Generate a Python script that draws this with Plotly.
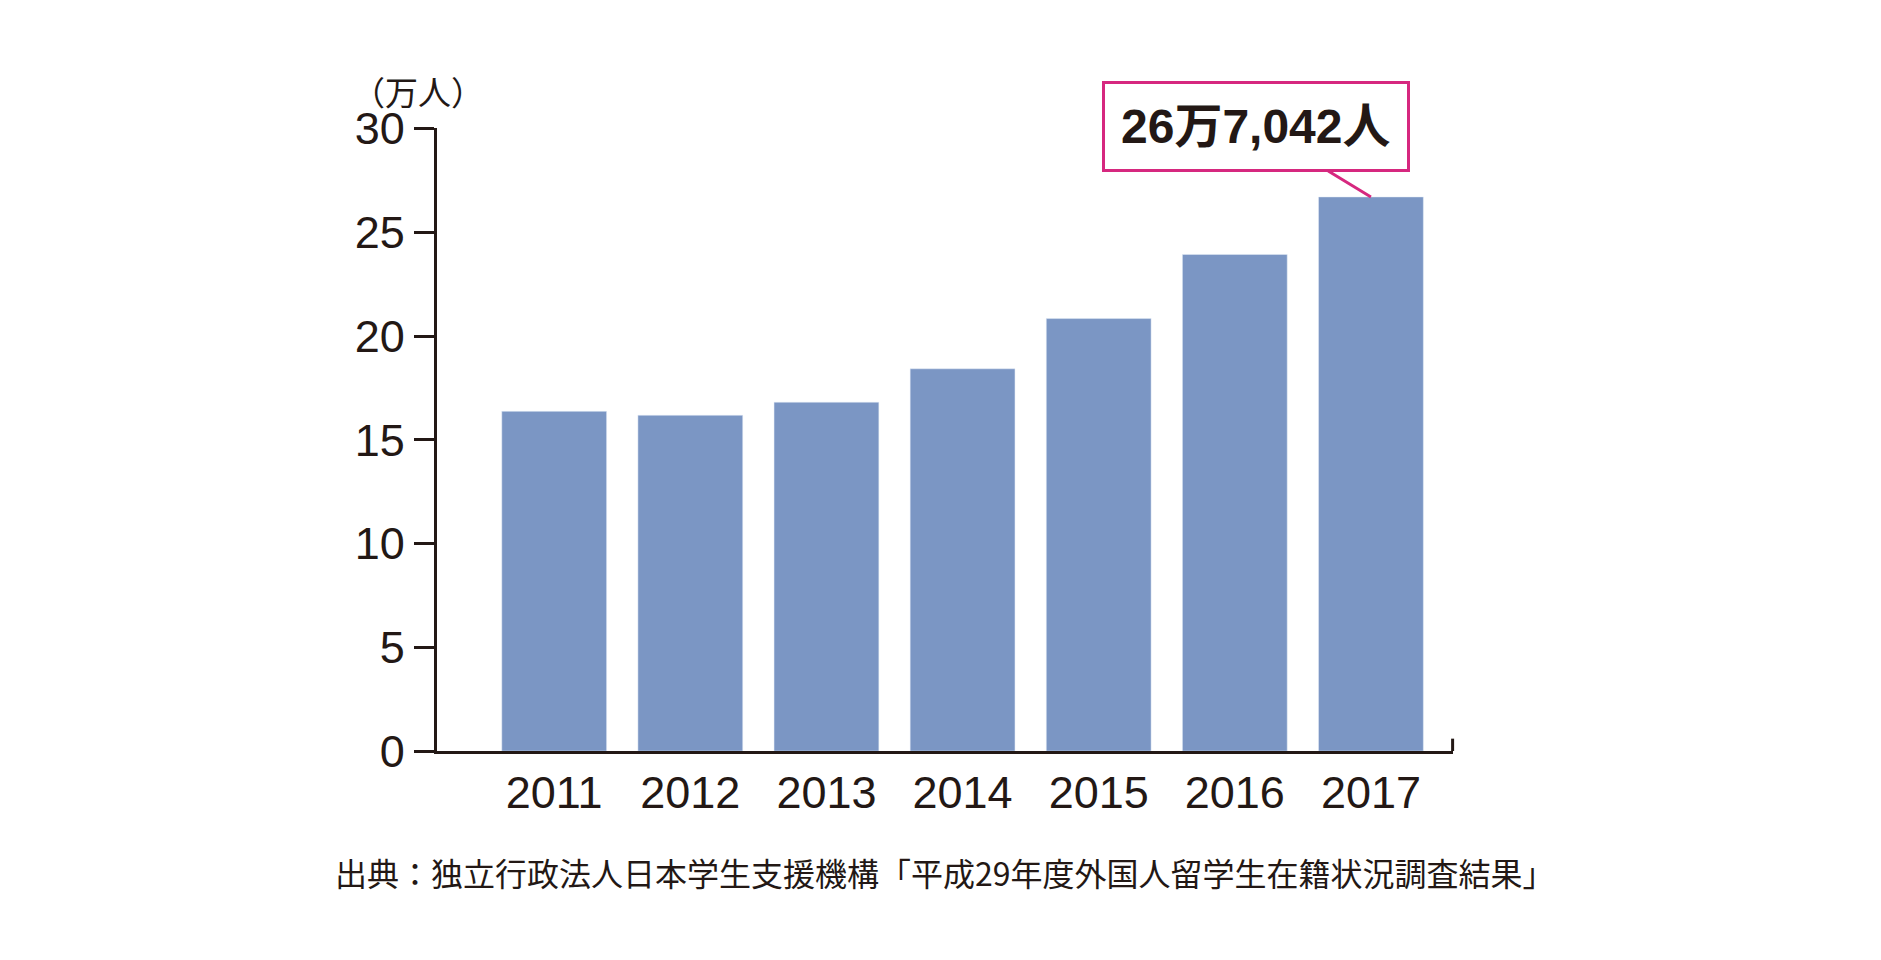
import plotly.graph_objects as go

years = ["2011", "2012", "2013", "2014", "2015", "2016", "2017"]
values = [16.37, 16.18, 16.81, 18.42, 20.84, 23.93, 26.70]
yticks = [0, 5, 10, 15, 20, 25, 30]
xpos = list(range(len(years)))

fig = go.Figure(go.Bar(x=xpos, y=values, marker_color="#7b96c4", width=0.77))
fig.update_layout(
    width=1881, height=960, margin=dict(l=0, r=0, t=0, b=0),
    paper_bgcolor="white", plot_bgcolor="white", showlegend=False,
    font=dict(family="Liberation Sans, Noto Sans CJK JP", color="#231815"),
    xaxis=dict(domain=[0.228, 0.768], range=[-0.862, 6.6], tickvals=xpos, ticktext=years,
               showline=True, linecolor="#231815", linewidth=3, ticks="", tickfont=dict(size=45),
               showgrid=False, zeroline=False),
    yaxis=dict(domain=[0.21, 0.895], range=[0, 30], tickvals=yticks, showline=True,
               linecolor="#231815", linewidth=3, ticks="outside", ticklen=20, tickwidth=3,
               tickcolor="#231815", tickfont=dict(size=45), showgrid=False, zeroline=False),
)
fig.add_shape(type="line", xref="paper", yref="y", x0=0.768, x1=0.768, y0=0, y1=0.6,
              line=dict(color="#231815", width=3))
fig.add_annotation(xref="paper", yref="paper", x=0.182, y=0.965, text="（万人）", showarrow=False,
                   font=dict(size=33, family="Noto Sans CJK JP"))
fig.add_annotation(x=6, y=values[6], xref="x", yref="y", text="<b>26万7,042人</b>",
                   ax=-115, ay=-70, showarrow=True, arrowhead=0, arrowwidth=3, arrowcolor="#d6287f",
                   bordercolor="#d6287f", borderwidth=3, borderpad=16, bgcolor="white",
                   font=dict(size=48, family="Liberation Sans, Noto Sans CJK JP"))
fig.add_annotation(xref="paper", yref="paper", x=0.498, y=0.049,
                   text="出典：独立行政法人日本学生支援機構「平成29年度外国人留学生在籍状況調査結果」",
                   showarrow=False, font=dict(size=32, family="Noto Sans CJK JP"))
fig.write_html("out.html")
